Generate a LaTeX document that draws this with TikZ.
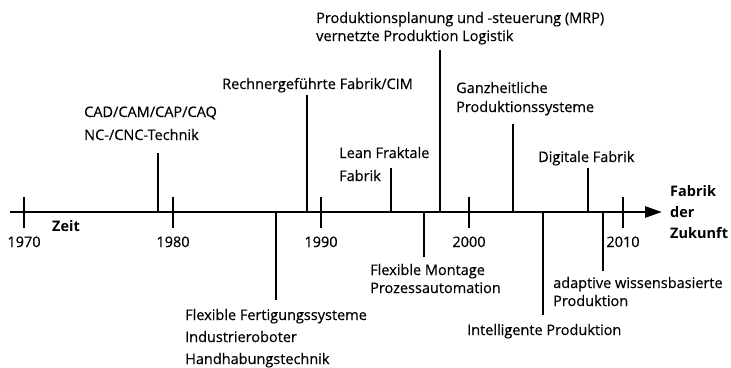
\documentclass[tikz,border=0pt]{standalone}
\usepackage{fontspec}
\setmainfont{Open Sans}
\newfontfamily\labelfont[FakeBold=0.35]{Open Sans}
\usetikzlibrary{arrows.meta}
\begin{document}
\begin{tikzpicture}[x=1pt,y=-1pt,
  lbl/.style={inner sep=0pt,anchor=base west,font=\labelfont\fontsize{14.5}{17}\selectfont},
  boldlbl/.style={inner sep=0pt,anchor=base west,font=\fontsize{14.5}{17}\selectfont\bfseries},
  yearlbl/.style={inner sep=0pt,anchor=base,font=\labelfont\fontsize{14.5}{17}\selectfont},
  timeaxis/.style={line width=2.8pt,-{Triangle[length=17pt,width=11pt]}},
  tickmark/.style={line width=1.2pt},
  stem/.style={line width=2.2pt}]
\useasboundingbox (0,0) rectangle (731,367);

% time axis
\coordinate (axL) at (10,212);
\coordinate (axR) at (662,212);
\draw[timeaxis] (axL) -- (axR);

% decade ticks and year labels
\foreach \yr/\xx in {1970/24,1980/173,1990/321,2000/469,2010/623}{
  \coordinate (tt\yr) at (\xx,197);
  \coordinate (tb\yr) at (\xx,228);
  \draw[tickmark] (tt\yr) -- (tb\yr);
  \node[yearlbl] (y\yr) at (\xx,247) {\yr};
}

\node[boldlbl] (zeit) at (52,231) {Zeit};
\node[boldlbl] (fz1) at (670,196) {Fabrik};
\node[boldlbl] (fz2) at (670,217) {der};
\node[boldlbl] (fz3) at (670,238) {Zukunft};

% milestones above the axis
\node[lbl] (cad1) at (84,117) {CAD/CAM/CAP/CAQ};
\node[lbl] (cad2) at (84,140) {NC-/CNC-Technik};
\coordinate (e1) at (158,153);
\draw[stem] (e1) -- (e1 |- axL);

\node[lbl] (cim) at (222,89) {Rechnergeführte Fabrik/CIM};
\coordinate (e2) at (307,95);
\draw[stem] (e2) -- (e2 |- axL);

\node[lbl] (lean1) at (339,158) {Lean Fraktale};
\node[lbl] (lean2) at (339,181) {Fabrik};
\coordinate (e3) at (391,168);
\draw[stem] (e3) -- (e3 |- axL);

\node[lbl] (mrp1) at (316,23) {Produktionsplanung und -steuerung (MRP)};
\node[lbl] (mrp2) at (316,41) {vernetzte Produktion Logistik};
\coordinate (e4) at (440,50);
\draw[stem] (e4) -- (e4 |- axL);

\node[lbl] (gps1) at (456,93) {Ganzheitliche};
\node[lbl] (gps2) at (456,112) {Produktionssysteme};
\coordinate (e5) at (513,124);
\draw[stem] (e5) -- (e5 |- axL);

\node[lbl] (dig) at (538,162) {Digitale Fabrik};
\coordinate (e6) at (588,168);
\draw[stem] (e6) -- (e6 |- axL);

% milestones below the axis
\node[lbl] (ffs1) at (185,320) {Flexible Fertigungssysteme};
\node[lbl] (ffs2) at (185,342) {Industrieroboter};
\node[lbl] (ffs3) at (185,364) {Handhabungstechnik};
\coordinate (e7) at (276,300);
\draw[stem] (e7) -- (e7 |- axL);

\node[lbl] (fm1) at (370,275) {Flexible Montage};
\node[lbl] (fm2) at (370,293) {Prozessautomation};
\coordinate (e8) at (424,257);
\draw[stem] (e8) -- (e8 |- axL);

\node[lbl] (ip) at (467,335) {Intelligente Produktion};
\coordinate (e9) at (543,315);
\draw[stem] (e9) -- (e9 |- axL);

\node[lbl] (awp1) at (553,288) {adaptive wissensbasierte};
\node[lbl] (awp2) at (553,306) {Produktion};
\coordinate (e10) at (603,271);
\draw[stem] (e10) -- (e10 |- axL);
\end{tikzpicture}
\end{document}
